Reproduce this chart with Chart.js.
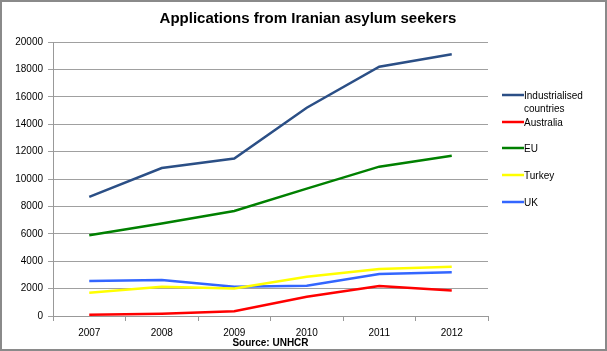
<!DOCTYPE html>
<html><head><meta charset="utf-8">
<script src="https://cdn.jsdelivr.net/npm/chart.js@4/dist/chart.umd.min.js"></script>
<style>html,body{margin:0;padding:0;background:#fff;}#wrap{width:607px;height:351px;position:relative;}</style>
</head><body><div id="wrap"><canvas id="c" width="607" height="351"></canvas></div>
<script>
const years = ['2007','2008','2009','2010','2011','2012'];
const industrialised = [8700, 10800, 11500, 15200, 18200, 19100];
const australia = [100, 170, 340, 1400, 2190, 1870];
const eu = [5900, 6750, 7660, 9300, 10900, 11700];
const turkey = [1700, 2140, 2000, 2870, 3430, 3600];
const uk = [2550, 2630, 2140, 2210, 3070, 3190];
const seriesNames = [['Industrialised','countries'], ['Australia'], ['EU'], ['Turkey'], ['UK']];
const titleText = 'Applications from Iranian asylum seekers';
const sourceText = 'Source: UNHCR';
const FONT = '"Liberation Sans", Arial, sans-serif';

const colors = ['#2b4f86', '#ff0000', '#008000', '#ffff00', '#3366ff'];
const values = [industrialised, australia, eu, turkey, uk];

const extras = {
  id: 'extras',
  afterDraw(chart) {
    const ctx = chart.ctx;
    const ca = chart.chartArea;
    ctx.save();
    ctx.strokeStyle = '#8a8a8a';
    ctx.lineWidth = 2;
    ctx.strokeRect(1, 1, 605, 349);
    ctx.fillStyle = '#000';
    ctx.font = 'bold 15px ' + FONT;
    ctx.textAlign = 'center';
    ctx.textBaseline = 'middle';
    ctx.fillText(titleText, 308, 19);
    ctx.font = 'bold 10px ' + FONT;
    ctx.fillText(sourceText, (ca.left + ca.right) / 2, 343);
    const lineYs = [95, 122, 148, 175, 202];
    ctx.font = '10px ' + FONT;
    ctx.textAlign = 'left';
    chart.data.datasets.forEach((ds, i) => {
      const y = lineYs[i];
      ctx.strokeStyle = ds.borderColor;
      ctx.lineWidth = 2.5;
      ctx.beginPath();
      ctx.moveTo(502, y);
      ctx.lineTo(524, y);
      ctx.stroke();
      ctx.fillStyle = '#000';
      seriesNames[i].forEach((t, k) => ctx.fillText(t, 524, y + 1.5 + k * 13));
    });
    ctx.restore();
  }
};

new Chart(document.getElementById('c'), {
  type: 'line',
  data: {
    labels: years,
    datasets: values.map((v, i) => ({
      label: seriesNames[i].join(' '),
      data: v,
      borderColor: colors[i],
      backgroundColor: colors[i],
      borderWidth: 2.5,
      pointRadius: 0,
      tension: 0,
      fill: false
    }))
  },
  options: {
    responsive: false,
    animation: false,
    devicePixelRatio: 1,
    layout: { padding: { left: 0, right: 119, top: 42, bottom: 0 } },
    plugins: { legend: { display: false }, tooltip: { enabled: false } },
    scales: {
      x: {
        offset: true,
        grid: { display: true, drawOnChartArea: false, offset: true, color: '#999', tickLength: 5 },
        border: { color: '#999', width: 1 },
        ticks: { color: '#000', font: { family: FONT, size: 10 }, padding: 6, maxRotation: 0 },
        afterFit(s) { s.height = 35; }
      },
      y: {
        min: 0, max: 20000,
        grid: { color: '#a0a0a0', tickLength: 5, lineWidth: 1 },
        border: { color: '#999', width: 1 },
        ticks: { stepSize: 2000, color: '#000', font: { family: FONT, size: 10 }, padding: 5,
                 callback: v => String(v) },
        afterFit(s) { s.width = 53; }
      }
    }
  },
  plugins: [extras]
});
</script>
</body></html>
